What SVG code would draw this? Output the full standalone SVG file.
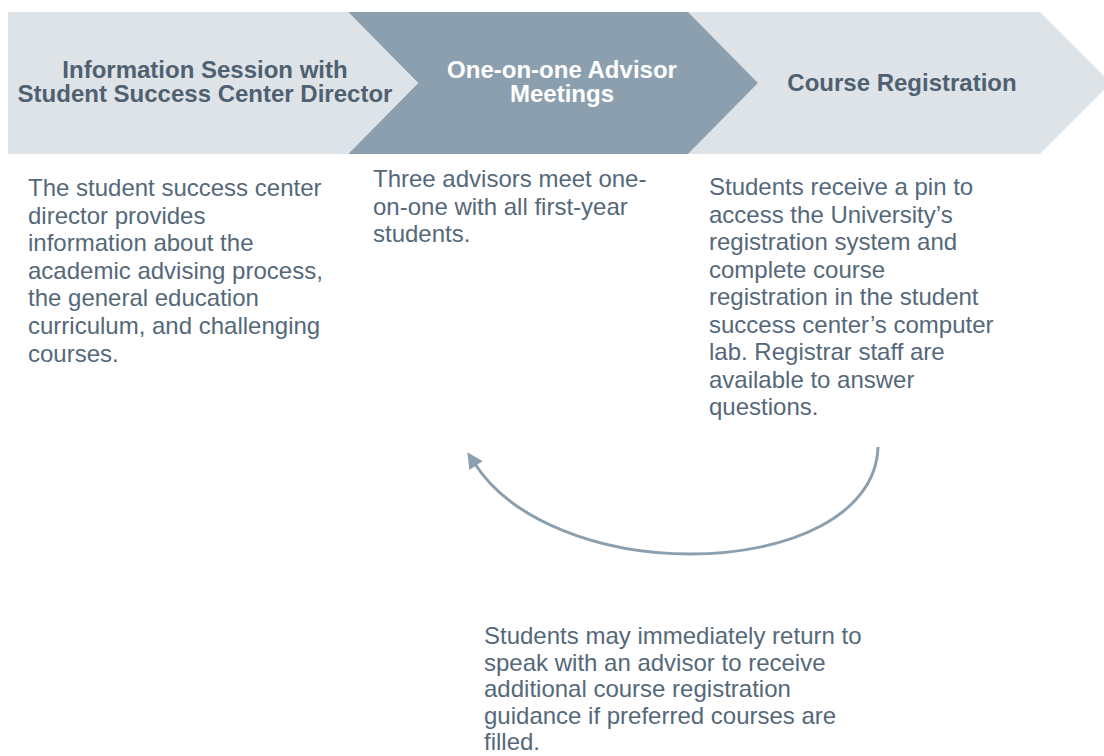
<svg xmlns="http://www.w3.org/2000/svg" width="1104" height="756" viewBox="0 0 1104 756">
<defs>
<style>
.light{fill:#DEE3E8}
.dark{fill:#8B9FAE}
.t{font-family:"Liberation Sans",Arial,sans-serif;font-weight:bold;font-size:24px;text-anchor:middle}
.tl{fill:#4F6171}
.tw{fill:#FFFFFF}
.b{font-family:"Liberation Sans",Arial,sans-serif;font-size:24px;fill:#55687A}
.conn{fill:none;stroke:#8B9FAE;stroke-width:3}
</style>
<marker id="ah" viewBox="0 0 16 16" refX="2" refY="8" markerWidth="16" markerHeight="16" markerUnits="userSpaceOnUse" orient="auto">
<path d="M0,0 L16,8 L0,16 z" fill="#8B9FAE"/>
</marker>
</defs>
<rect width="1104" height="756" fill="#FFFFFF"/>
<g id="step3">
<polygon class="light" points="688,12 1040,12 1111,83 1040,154 688,154 758,83"/>
<text class="t tl" x="902" y="91">Course Registration</text>
</g>
<g id="step2">
<polygon class="dark" points="348,12 688,12 758,83 688,154 348,154 418,83"/>
<text class="t tw" x="562" y="78">One-on-one Advisor</text>
<text class="t tw" x="562" y="102">Meetings</text>
</g>
<g id="step1">
<polygon class="light" points="8,12 348,12 418,83 348,154 8,154"/>
<text class="t tl" x="205" y="78">Information Session with</text>
<text class="t tl" x="205" y="102">Student Success Center Director</text>
</g>
<g id="desc1">
<text class="b" x="28" y="196">The student success center</text>
<text class="b" x="28" y="223.6">director provides</text>
<text class="b" x="28" y="251.2">information about the</text>
<text class="b" x="28" y="278.8">academic advising process,</text>
<text class="b" x="28" y="306.4">the general education</text>
<text class="b" x="28" y="334">curriculum, and challenging</text>
<text class="b" x="28" y="361.6">courses.</text>
</g>
<g id="desc2">
<text class="b" x="373" y="187">Three advisors meet one-</text>
<text class="b" x="373" y="214.6">on-one with all first-year</text>
<text class="b" x="373" y="242.2">students.</text>
</g>
<g id="desc3">
<text class="b" x="709" y="195">Students receive a pin to</text>
<text class="b" x="709" y="222.5">access the University’s</text>
<text class="b" x="709" y="250">registration system and</text>
<text class="b" x="709" y="277.5">complete course</text>
<text class="b" x="709" y="305">registration in the student</text>
<text class="b" x="709" y="332.5">success center’s computer</text>
<text class="b" x="709" y="360">lab. Registrar staff are</text>
<text class="b" x="709" y="387.5">available to answer</text>
<text class="b" x="709" y="415">questions.</text>
</g>
<g id="connectors">
<path class="conn" d="M878,447 C876,515 790,554 690,554 C600,554 512,521 475,464" marker-end="url(#ah)"/>
</g>
<g id="loopnote">
<text class="b" x="484" y="644">Students may immediately return to</text>
<text class="b" x="484" y="670.5">speak with an advisor to receive</text>
<text class="b" x="484" y="697">additional course registration</text>
<text class="b" x="484" y="723.5">guidance if preferred courses are</text>
<text class="b" x="484" y="750">filled.</text>
</g>
</svg>
